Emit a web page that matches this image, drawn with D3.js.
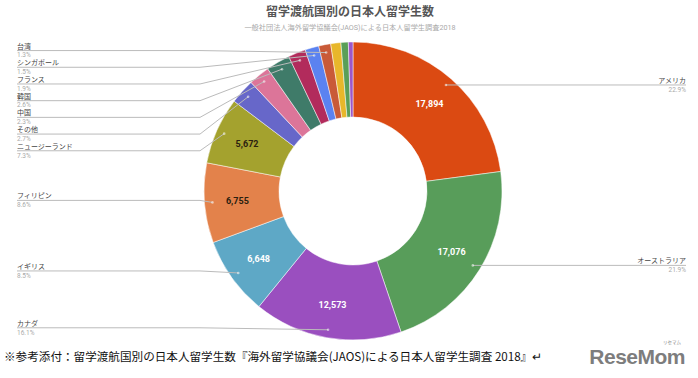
<!DOCTYPE html>
<html>
<head>
<meta charset="utf-8">
<script src="https://cdn.jsdelivr.net/npm/d3@7"></script>
<style>
  body { margin: 0; background: #fff; }
  svg { display: block; font-family: Roboto, "Noto Sans CJK JP", sans-serif; }
</style>
</head>
<body>
<div id="chart"></div>
<script>
// data (clockwise from 12 o'clock)
const countries = ["アメリカ", "オーストラリア", "カナダ", "イギリス", "フィリピン", "ニュージーランド",
  "その他", "中国", "韓国", "フランス", "シンガポール", "台湾", "ドイツ", "マレーシア", "アイルランド"];
const students = [17894, 17076, 12573, 6648, 6755, 5672, 2110, 1797, 2032, 1485, 1172, 1016, 860, 620, 390];
const sliceColors = ["#db4a12", "#589d5a", "#9a4fbf", "#5ea8c6", "#e3824b", "#a4a22e",
  "#6767c9", "#dc7599", "#3f7b69", "#b22b5c", "#5b82f0", "#c95a38", "#e8b72b", "#5a9f58", "#9d57c9"];
const title = "留学渡航国別の日本人留学生数";
const subtitle = "一般社団法人海外留学協議会(JAOS)による日本人留学生調査2018";
const note = "※参考添付：留学渡航国別の日本人留学生数『海外留学協議会(JAOS)による日本人留学生調査 2018』↵";

const W = 698, H = 378;
const cx = 353, cy = 191, outerR = 149, innerR = 74;
const darkText = new Set(["フィリピン", "ニュージーランド"]);

const data = countries.map((c, i) => ({ key: c, value: students[i], color: sliceColors[i] }));
const total = d3.sum(students);
const pct = d3.format(".1%");
const num = d3.format(",");

const svg = d3.select("#chart").append("svg")
  .attr("width", W).attr("height", H);

svg.append("text")
  .attr("x", 350).attr("y", 16)
  .attr("text-anchor", "middle")
  .style("font-size", "12px").style("font-weight", "bold").style("fill", "#555")
  .text(title);
svg.append("text")
  .attr("x", 350).attr("y", 30)
  .attr("text-anchor", "middle")
  .style("font-size", "7.2px").style("fill", "#aaa")
  .text(subtitle);

const g = svg.append("g").attr("transform", `translate(${cx},${cy})`);

const pie = d3.pie().sort(null).value(d => d.value);
const arc = d3.arc().innerRadius(innerR).outerRadius(outerR);
const labelArc = d3.arc().innerRadius(116).outerRadius(116);
const dotArc = d3.arc().innerRadius(141).outerRadius(141);

const arcs = pie(data);

g.selectAll("path.slice")
  .data(arcs)
  .enter()
  .append("path")
  .attr("class", "slice")
  .attr("d", arc)
  .style("fill", d => d.data.color)
  .style("stroke", "#fff")
  .style("stroke-width", 0.5);

// values inside the big slices
g.selectAll("text.val")
  .data(arcs.filter(d => d.data.value / total > 0.05))
  .enter()
  .append("text")
  .attr("class", "val")
  .attr("transform", d => `translate(${labelArc.centroid(d)})`)
  .attr("text-anchor", "middle")
  .attr("dy", "0.35em")
  .style("font-size", "9px")
  .style("font-weight", "bold")
  .style("fill", d => darkText.has(d.data.key) ? "#2b2110" : "#fff")
  .text(d => num(d.data.value));

// labelled slices (the tiny ones are left out)
const labelled = arcs.filter(d => d.data.value / total >= 0.0125).map(d => {
  const [x, y] = dotArc.centroid(d);
  return { d, dx: x + cx, dy: y + cy, left: (d.startAngle + d.endAngle) / 2 > Math.PI };
});

const place = (list) => {
  list.sort((a, b) => a.dy - b.dy);
  let prev = -Infinity;
  list.forEach(l => { l.ly = Math.max(l.dy - 2, prev + 16.7); prev = l.ly; });
};
const leftL = labelled.filter(l => l.left);
const rightL = labelled.filter(l => !l.left);
place(leftL); place(rightL);

const lab = svg.append("g");
leftL.forEach(l => {
  lab.append("path")
    .attr("d", `M17,${l.ly}H200L${l.dx},${l.dy}`)
    .style("fill", "none").style("stroke", "#bbb").style("stroke-width", 1);
  lab.append("text").attr("x", 17).attr("y", l.ly - 2)
    .style("font-size", "7px").style("fill", "#444").text(l.d.data.key);
  lab.append("text").attr("x", 17).attr("y", l.ly + 6.8)
    .style("font-size", "6.5px").style("fill", "#aaa").text(pct(l.d.data.value / total));
});
rightL.forEach(l => {
  lab.append("path")
    .attr("d", `M${l.dx},${l.dy}H686`)
    .style("fill", "none").style("stroke", "#bbb").style("stroke-width", 1);
  lab.append("text").attr("x", 686).attr("y", l.dy - 2).attr("text-anchor", "end")
    .style("font-size", "7px").style("fill", "#444").text(l.d.data.key);
  lab.append("text").attr("x", 686).attr("y", l.dy + 6.8).attr("text-anchor", "end")
    .style("font-size", "6.5px").style("fill", "#aaa").text(pct(l.d.data.value / total));
});
lab.selectAll("circle")
  .data(labelled)
  .enter()
  .append("circle")
  .attr("cx", l => l.dx).attr("cy", l => l.dy).attr("r", 1.3)
  .style("fill", "rgba(255,255,255,0.55)");

// footnote + logo
svg.append("text")
  .attr("x", 4).attr("y", 361)
  .style("font-size", "11.6px").style("fill", "#111")
  .style("font-family", "'Noto Sans CJK JP', sans-serif")
  .text(note);
svg.append("text")
  .attr("x", 685).attr("y", 364).attr("text-anchor", "end")
  .style("font-size", "21px").style("font-weight", "bold").style("fill", "#7d7d7d")
  .style("font-family", "'Liberation Sans', Arial, sans-serif")
  .style("letter-spacing", "-0.5px")
  .text("ReseMom");
svg.append("text")
  .attr("x", 672).attr("y", 343.5).attr("text-anchor", "middle")
  .style("font-size", "4.5px").style("fill", "#888")
  .text("リセマム");
</script>
</body>
</html>
